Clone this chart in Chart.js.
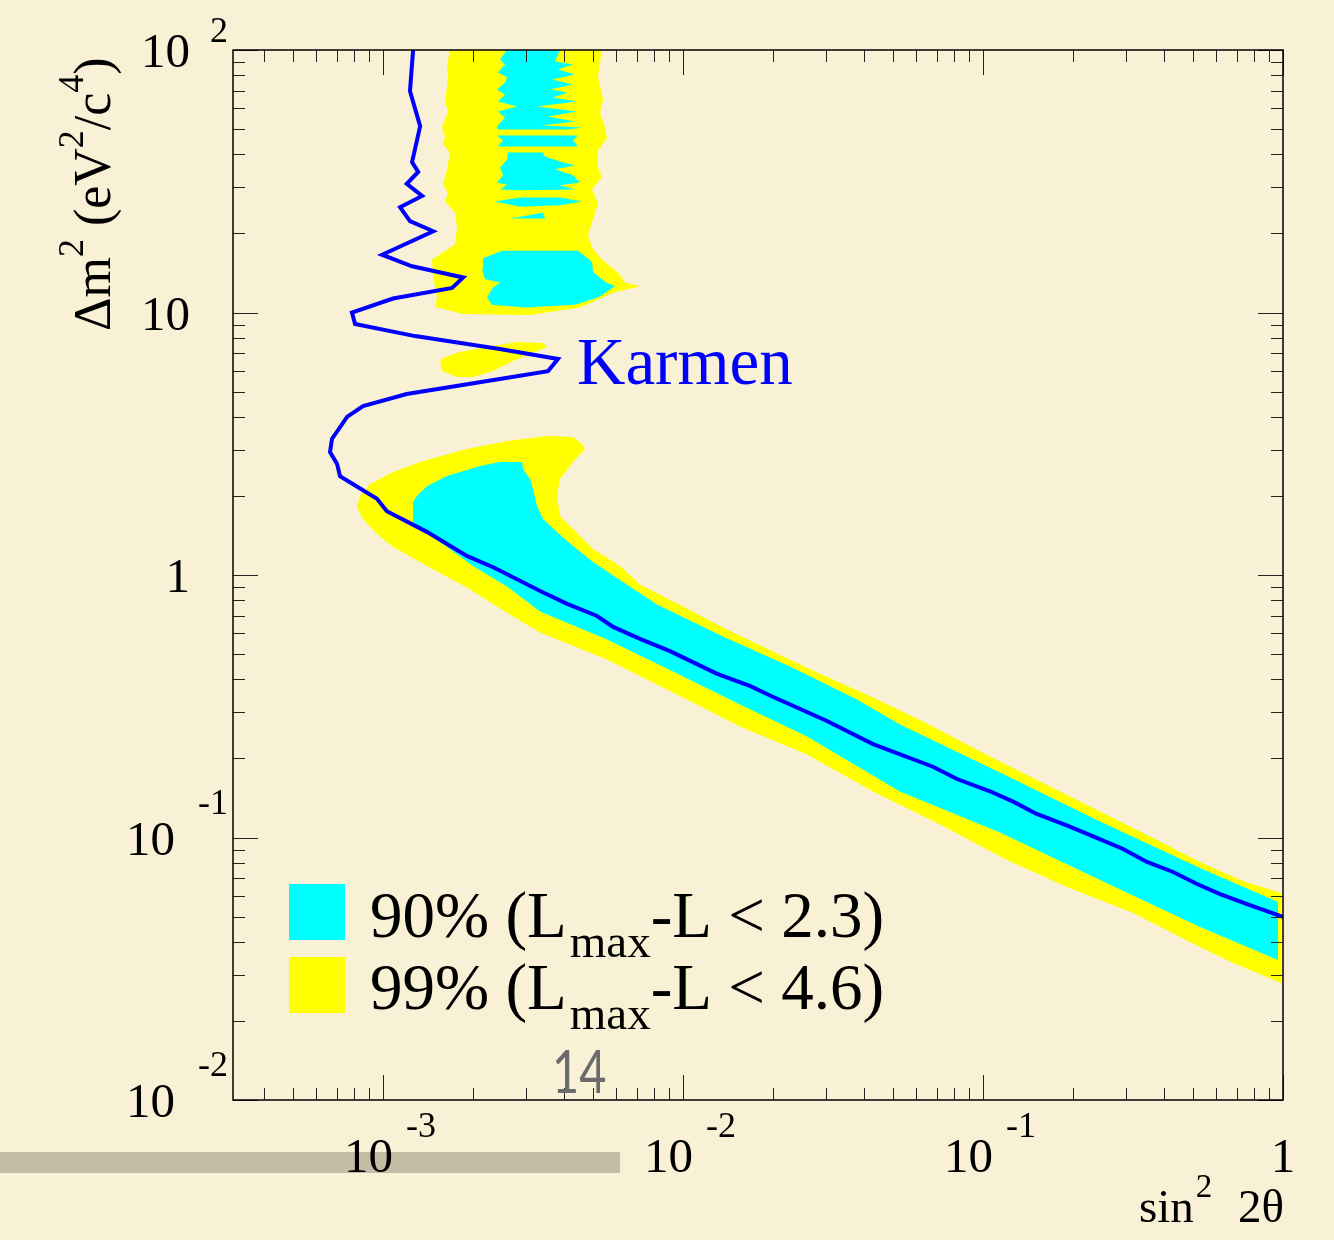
<!DOCTYPE html>
<html>
<head>
<meta charset="utf-8">
<script src="https://cdn.jsdelivr.net/npm/chart.js@4.4.1/dist/chart.umd.min.js"></script>
<style>
  html, body { margin: 0; padding: 0; background: #f9f1d6; }
  #wrap { width: 1334px; height: 1240px; position: relative; }
</style>
</head>
<body>
<div id="wrap"><canvas id="chart" width="1334" height="1240"></canvas></div>
<script>
// Karmen exclusion curve: sin^2(2θ) and Δm^2 (eV^2/c^4)
const karmenSin2 = [1.26e-3, 1.23e-3, 1.33e-3, 1.25e-3, 1.31e-3, 1.20e-3, 1.35e-3, 1.14e-3, 1.23e-3, 1.47e-3,
  0.993e-3, 1.25e-3, 1.85e-3, 1.70e-3, 1.08e-3, 0.788e-3, 0.807e-3, 1.28e-3, 2.45e-3, 3.83e-3,
  3.55e-3, 2.45e-3, 1.20e-3, 0.858e-3, 0.759e-3, 0.676e-3, 0.666e-3, 0.703e-3, 0.719e-3, 0.955e-3,
  1.03e-3, 1.40e-3, 1.91e-3, 2.33e-3, 3.34e-3, 4.11e-3, 5.17e-3, 5.85e-3, 7.19e-3, 9.05e-3,
  0.0130, 0.0167, 0.0200, 0.0302, 0.0430, 0.0681, 0.0819, 0.1055, 0.126, 0.151,
  0.191, 0.233, 0.293, 0.352, 0.430, 0.517, 0.617, 0.759, 1.0];
const karmenDm2 = [100, 69.8, 51.3, 37.4, 34.3, 30.9, 27.8, 25.2, 22.3, 20.4,
  16.6, 15.0, 13.6, 12.4, 11.3, 10.0, 9.04, 8.13, 7.26, 6.65,
  5.98, 5.58, 4.89, 4.40, 4.00, 3.30, 2.94, 2.65, 2.38, 1.95,
  1.75, 1.46, 1.18, 1.07, 0.869, 0.776, 0.698, 0.634, 0.571, 0.513,
  0.420, 0.378, 0.343, 0.278, 0.227, 0.186, 0.167, 0.150, 0.137, 0.123,
  0.111, 0.101, 0.0904, 0.0807, 0.0739, 0.0665, 0.0609, 0.0558, 0.0498];

// 99% regions, outlines as [sin^2 2θ, Δm^2]
const upper99 = [[1.672e-3, 100], [1.634e-3, 86.5], [1.647e-3, 77.2], [1.609e-3, 63.7], [1.647e-3, 58.3],
  [1.573e-3, 50.7], [1.609e-3, 46.8], [1.585e-3, 43.7], [1.672e-3, 40.7], [1.634e-3, 35.1],
  [1.585e-3, 30.7], [1.647e-3, 28.6], [1.609e-3, 26.5], [1.738e-3, 24.0], [1.765e-3, 21.1],
  [1.738e-3, 18.2], [1.457e-3, 15.9], [1.468e-3, 13.7], [1.514e-3, 11.4], [1.491e-3, 10.5],
  [1.848e-3, 9.87], [3.09e-3, 9.78], [4.536e-3, 10.45], [5.844e-3, 11.9], [7.189e-3, 12.6],
  [6.407e-3, 13.0], [6.072e-3, 14.2], [5.37e-3, 15.9], [4.973e-3, 17.7], [4.823e-3, 19.8],
  [5.012e-3, 22.6], [5.208e-3, 26.2], [4.973e-3, 29.4], [5.37e-3, 33.0], [5.208e-3, 35.7],
  [5.168e-3, 40.7], [5.58e-3, 46.4], [5.495e-3, 50.7], [5.288e-3, 57.8], [5.412e-3, 64.8],
  [5.208e-3, 79.3], [5.37e-3, 100]];
const island99 = [[1.549e-3, 6.535], [1.609e-3, 6.769], [1.806e-3, 7.072], [2.221e-3, 7.389], [2.797e-3, 7.720],
  [3.415e-3, 7.652], [3.521e-3, 7.389], [3.090e-3, 6.950], [2.712e-3, 6.535], [2.326e-3, 5.985],
  [1.995e-3, 5.680], [1.765e-3, 5.680], [1.573e-3, 5.985]];
const lower99 = [[8.19e-4, 1.816], [8.38e-4, 2.000], [9.05e-4, 2.222], [1.080e-3, 2.468], [1.359e-3, 2.719],
  [1.905e-3, 3.020], [2.591e-3, 3.239], [3.521e-3, 3.385], [4.299e-3, 3.356], [4.605e-3, 3.155],
  [4.713e-3, 3.020], [4.299e-3, 2.695], [3.890e-3, 2.321], [3.802e-3, 2.000], [3.890e-3, 1.678],
  [4.299e-3, 1.497], [5.012e-3, 1.256], [6.166e-3, 1.082], [7.189e-3, 0.9201], [1.0e-2, 0.759],
  [1.402e-2, 0.6201], [1.995e-2, 0.5112], [2.797e-2, 0.4253], [4.299e-2, 0.3415], [6.310e-2, 0.2766],
  [0.1055, 0.2035], [0.1672, 0.1564], [0.2455, 0.1256], [0.3603, 0.1009], [0.5288, 0.08067],
  [0.7356, 0.06829], [0.985, 0.06144], [0.985, 0.02791], [0.6813, 0.03326], [0.5288, 0.03826],
  [0.3162, 0.05157], [0.1905, 0.06477], [0.1202, 0.08209], [7.189e-2, 0.1121], [4.299e-2, 0.1497],
  [2.591e-2, 0.2071], [1.549e-2, 0.2648], [9.262e-3, 0.3568], [5.580e-3, 0.4765], [3.337e-3, 0.6039],
  [2.712e-3, 0.695], [1.905e-3, 0.8965], [1.402e-3, 1.082], [1.080e-3, 1.278], [9.55e-4, 1.433],
  [8.58e-4, 1.634]];

// 90% regions
const upper90a = [[2.591e-3, 100], [2.455e-3, 92.0], [2.551e-3, 88.1], [2.417e-3, 82.1], [2.591e-3, 78.6],
  [2.551e-3, 75.2], [2.399e-3, 70.7], [2.551e-3, 67.7], [2.417e-3, 63.7], [2.797e-3, 60.9],
  [2.417e-3, 58.3], [2.551e-3, 55.3], [2.399e-3, 51.1], [2.417e-3, 49.8], [4.137e-3, 49.8],
  [4.605e-3, 50.7], [3.388e-3, 51.6], [4.365e-3, 53.4], [3.548e-3, 55.8], [4.432e-3, 58.3],
  [3.261e-3, 60.9], [4.432e-3, 63.7], [3.687e-3, 65.9], [4.137e-3, 68.9], [3.603e-3, 70.7],
  [4.299e-3, 73.9], [3.659e-3, 77.2], [4.365e-3, 80.7], [3.831e-3, 84.3], [4.299e-3, 88.1],
  [3.744e-3, 90.4], [3.890e-3, 100]];
const upper90b = [[2.399e-3, 47.2], [4.467e-3, 47.2], [4.299e-3, 45.2], [4.467e-3, 42.9], [2.417e-3, 42.9],
  [2.512e-3, 45.2]];
const upper90c = [[2.610e-3, 40.7], [3.415e-3, 40.7], [3.467e-3, 39.3], [3.890e-3, 37.6], [4.365e-3, 36.3],
  [3.744e-3, 35.1], [4.299e-3, 33.3], [4.536e-3, 31.3], [3.890e-3, 30.5], [4.365e-3, 29.4],
  [2.862e-3, 29.2], [2.455e-3, 29.4], [2.591e-3, 30.7], [2.399e-3, 31.3], [2.512e-3, 33.3],
  [2.455e-3, 35.7], [2.591e-3, 38.3]];
const upper90d = [[2.362e-3, 26.5], [2.862e-3, 27.4], [3.890e-3, 27.4], [4.605e-3, 26.5], [3.890e-3, 25.6],
  [2.862e-3, 25.3]];
const upper90e = [[2.650e-3, 22.8], [3.415e-3, 24.0], [3.467e-3, 22.8]];
const upper90f = [[2.493e-3, 17.2], [4.467e-3, 17.2], [4.973e-3, 15.6], [5.012e-3, 14.3], [5.495e-3, 13.1],
  [5.935e-3, 12.6], [5.208e-3, 11.4], [4.365e-3, 10.7], [2.974e-3, 10.45], [2.308e-3, 10.7],
  [2.221e-3, 11.4], [2.326e-3, 12.45], [2.455e-3, 13.0], [2.188e-3, 13.4], [2.138e-3, 14.6],
  [2.154e-3, 16.1]];
const lower90 = [[1.259e-3, 1.592], [1.259e-3, 1.897], [1.298e-3, 2.000], [1.402e-3, 2.183], [1.634e-3, 2.383],
  [2.106e-3, 2.601], [2.455e-3, 2.695], [2.906e-3, 2.695], [2.929e-3, 2.534], [3.090e-3, 2.321],
  [3.162e-3, 2.127], [3.261e-3, 1.832], [3.415e-3, 1.634], [3.802e-3, 1.458], [4.299e-3, 1.290],
  [5.012e-3, 1.121], [8.189e-3, 0.772], [1.359e-2, 0.5831], [2.273e-2, 0.4481], [3.802e-2, 0.3356],
  [5.288e-2, 0.2695], [0.1139, 0.1768], [0.2455, 0.1151], [0.5288, 0.07652], [0.9624, 0.0568],
  [0.9624, 0.03415], [0.5288, 0.04560], [0.2455, 0.06889], [0.1139, 0.1045], [5.288e-2, 0.1497],
  [2.591e-2, 0.2426], [1.549e-2, 0.3212], [9.262e-3, 0.429], [5.580e-3, 0.568], [3.337e-3, 0.7261],
  [2.591e-3, 0.9042], [1.995e-3, 1.082], [1.549e-3, 1.336]];

// axis tick labels (base + exponent)
const xTickValues = [1e-3, 1e-2, 1e-1, 1];
const xTickBase = ['10', '10', '10', '1'];
const xTickExp = ['-3', '-2', '-1', ''];
const yTickValues = [0.01, 0.1, 1, 10, 100];
const yTickBase = ['10', '10', '1', '10', '10'];
const yTickExp = ['-2', '-1', '', '', '2'];

const legendLabels = ['90% (L', '99% (L'];
const legendTails = ['-L < 2.3)', '-L < 4.6)'];

const CYAN = '#00ffff';
const YELLOW = '#ffff00';
const BLUE = '#0000ff';
const SERIF = '"Liberation Serif", "Times New Roman", serif';

const toPts = arr => arr.map(([x, y]) => ({ x, y }));

function region(data, color, order) {
  return {
    data: toPts(data),
    backgroundColor: color,
    borderWidth: 0,
    pointRadius: 0,
    tension: 0,
    fill: 'shape',
    order
  };
}

// Background and slide footer bar
const backdrop = {
  id: 'backdrop',
  beforeDraw(chart) {
    const ctx = chart.ctx;
    ctx.save();
    ctx.fillStyle = '#f9f1d6';
    ctx.fillRect(0, 0, chart.width, chart.height);
    ctx.fillStyle = '#c4bca4';
    ctx.fillRect(0, 1152, 620, 21);
    ctx.restore();
  }
};

// ROOT-like frame with inward ticks on all four sides
const frame = {
  id: 'frame',
  afterDatasetsDraw(chart) {
    const { ctx, chartArea: a, scales: { x, y } } = chart;
    ctx.save();
    ctx.strokeStyle = '#222';
    ctx.lineWidth = 1;
    ctx.beginPath();
    for (let k = -4; k <= 2; k++) {
      for (let m = 1; m <= 9; m++) {
        const v = m * Math.pow(10, k);
        const len = m === 1 ? 25 : 12;
        if (v >= x.min * 0.9999 && v <= x.max * 1.0001) {
          const px = Math.round(x.getPixelForValue(v)) + 0.5;
          ctx.moveTo(px, a.bottom); ctx.lineTo(px, a.bottom - len);
          ctx.moveTo(px, a.top); ctx.lineTo(px, a.top + len);
        }
        if (v >= y.min * 0.9999 && v <= y.max * 1.0001) {
          const py = Math.round(y.getPixelForValue(v)) + 0.5;
          ctx.moveTo(a.left, py); ctx.lineTo(a.left + len, py);
          ctx.moveTo(a.right, py); ctx.lineTo(a.right - len, py);
        }
      }
    }
    ctx.stroke();
    ctx.strokeStyle = '#000';
    ctx.lineWidth = 1.5;
    ctx.strokeRect(a.left, a.top, a.right - a.left, a.bottom - a.top);
    ctx.restore();
  }
};

function text(ctx, s, x, y, size, align, color, family) {
  ctx.font = size + 'px ' + (family || SERIF);
  ctx.textAlign = align || 'left';
  ctx.fillStyle = color || '#000';
  ctx.fillText(s, x, y);
  return ctx.measureText(s).width;
}

// Tick labels, axis titles, legend and annotations
const labels = {
  id: 'labels',
  afterDraw(chart) {
    const { ctx, scales: { x, y } } = chart;
    ctx.save();
    ctx.textBaseline = 'alphabetic';

    xTickValues.forEach((v, i) => {
      const px = x.getPixelForValue(v);
      if (xTickExp[i]) {
        text(ctx, xTickBase[i], px + 10, 1172, 49, 'right');
        text(ctx, xTickExp[i], px + 23, 1137, 36, 'left');
      } else {
        text(ctx, xTickBase[i], px, 1172, 49, 'center');
      }
    });

    yTickValues.forEach((v, i) => {
      const py = y.getPixelForValue(v);
      const e = yTickExp[i];
      if (e && e[0] === '-') {
        text(ctx, yTickBase[i], 175, py + 17, 49, 'right');
        text(ctx, e, 228, py - 24, 36, 'right');
      } else if (e) {
        text(ctx, yTickBase[i], 190, py + 17, 49, 'right');
        text(ctx, e, 210, py - 8, 36, 'left');
      } else {
        text(ctx, yTickBase[i], 190, py + 17, 49, 'right');
      }
    });

    // x title: sin² 2θ
    let cx = 1139;
    cx += text(ctx, 'sin', cx, 1222, 47, 'left');
    text(ctx, '2', cx + 2, 1197, 33, 'left');
    text(ctx, '2θ', 1284, 1222, 47, 'right');

    // y title: Δm² (eV²/c⁴), rotated
    ctx.save();
    ctx.translate(110, 331);
    ctx.rotate(-Math.PI / 2);
    const parts = [['Δm', 0], ['2', 1], [' (eV', 0], ['2', 1], ['/c', 0], ['4', 1], [')', 0]];
    let t = 0;
    parts.forEach(([s, sup]) => {
      t += text(ctx, s, t, sup ? -27 : 0, sup ? 36 : 52, 'left');
    });
    ctx.restore();

    // legend
    [CYAN, YELLOW].forEach((c, i) => {
      const top = 884 + i * 73;
      ctx.fillStyle = c;
      ctx.fillRect(289, top, 56, 56);
      const base = 937 + i * 72;
      let lx = 370;
      lx += text(ctx, legendLabels[i], lx, base, 65, 'left');
      lx += text(ctx, 'max', lx + 3, base + 20, 47, 'left') + 3;
      text(ctx, legendTails[i], lx, base, 65, 'left');
    });

    text(ctx, 'Karmen', 577, 384, 67, 'left', BLUE);

    // slide page number
    ctx.save();
    ctx.translate(552, 1093);
    ctx.scale(0.78, 1);
    text(ctx, '14', 0, 0, 60, 'left', '#6b6b6b', '"Lato", "DejaVu Sans", sans-serif');
    ctx.restore();
    ctx.restore();
  }
};

new Chart(document.getElementById('chart'), {
  type: 'line',
  data: {
    datasets: [
      {
        label: 'Karmen',
        data: karmenSin2.map((v, i) => ({ x: v, y: karmenDm2[i] })),
        borderColor: BLUE,
        borderWidth: 4,
        pointRadius: 0,
        tension: 0,
        fill: false,
        order: 0
      },
      region(upper90a, CYAN, 1),
      region(upper90b, CYAN, 1),
      region(upper90c, CYAN, 1),
      region(upper90d, CYAN, 1),
      region(upper90e, CYAN, 1),
      region(upper90f, CYAN, 1),
      region(lower90, CYAN, 1),
      region(upper99, YELLOW, 2),
      region(island99, YELLOW, 2),
      region(lower99, YELLOW, 2)
    ]
  },
  options: {
    responsive: false,
    animation: false,
    events: [],
    layout: { padding: { left: 233, top: 50, right: 51, bottom: 140 } },
    scales: {
      x: { type: 'logarithmic', bounds: 'data', min: 3.1623e-4, max: 1, display: false },
      y: { type: 'logarithmic', bounds: 'data', min: 0.01, max: 100, display: false }
    },
    plugins: { legend: { display: false }, tooltip: { enabled: false } }
  },
  plugins: [backdrop, frame, labels]
});
</script>
</body>
</html>
